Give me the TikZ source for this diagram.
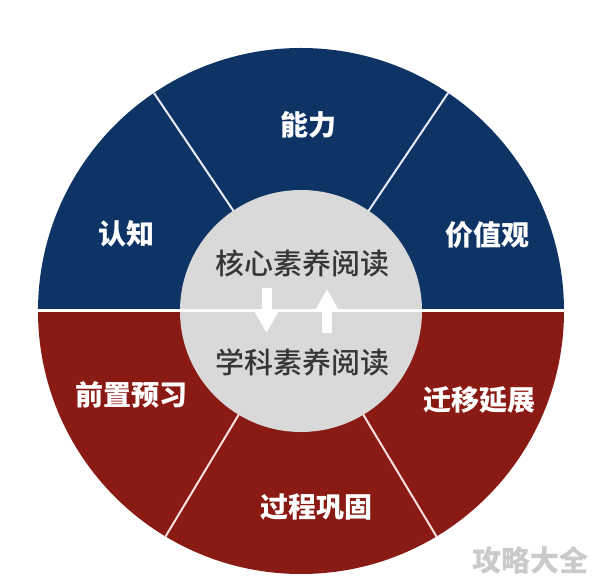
\documentclass[tikz,border=0pt]{standalone}
\usepackage{fontspec}
\newfontfamily\cjk{Noto Sans CJK SC}
\newfontfamily\cjkmed{Noto Sans CJK SC}[UprightFont={* Medium}]
\usepackage{tikz}
\usetikzlibrary{positioning, arrows.meta}
\definecolor{wheelblue}{HTML}{0E3466}
\definecolor{wheelred}{HTML}{8A1B14}
\definecolor{hubgrey}{HTML}{D9D9D9}
\definecolor{hubtext}{HTML}{363636}
\definecolor{marktext}{HTML}{CACACA}
\tikzset{
  wheel/.style={
	x=1pt, y=1pt, % one unit is one pixel of the reference
	outer/.style={inner sep=0pt, text=white, font=\cjk\bfseries\fontsize{28}{28}\selectfont}, % labels on the coloured ring
	hub/.style={inner sep=0pt, text=hubtext, font=\cjkmed\fontsize{29}{29}\selectfont}, % labels on the grey hub
	upline/.style={draw=blue!8, line width=2pt}, % dividers in the blue half
	lowline/.style={draw=red!12, line width=2pt}, % dividers in the red half
	flow/.style={draw=white, line width=10pt, -{Triangle[width=23pt, length=22pt]}}, % white block arrows
  }
}
\begin{document}
\begin{tikzpicture}[wheel]
	  \useasboundingbox (0,0) rectangle (594,584);
	  \coordinate (o) at (301,273);

	  % ring: blue upper half, red lower half
	  \fill[wheelblue] (o) ++(263,0) arc[start angle=0, end angle=180, radius=263] -- cycle;
	  \fill[wheelred] (o) ++(-263,0) arc[start angle=180, end angle=360, radius=263] -- cycle;
	  \foreach \a in {56,124}
		  \draw[upline] ([shift={(\a:115)}]o) -- ([shift={(\a:263)}]o);
	  \foreach \a in {-59,-121}
		  \draw[lowline] ([shift={(\a:115)}]o) -- ([shift={(\a:263)}]o);

	  % hub
	  \fill[hubgrey] (o) circle[radius=121];
	  \draw[white, line width=3pt] ([xshift=-263pt]o) -- ([xshift=263pt]o);

	  \node[outer] (ability) at ([shift={(7,186)}]o) {能力};
	  \node[outer] (cognition) at ([shift={(-175,77)}]o) {认知};
	  \node[outer] (values) at ([shift={(186,76)}]o) {价值观};
	  \node[outer] (preview) at ([shift={(-170,-84)}]o) {前置预习};
	  \node[outer] (transfer) at ([shift={(178,-89)}]o) {迁移延展};
	  \node[outer] (consolidate) at ([shift={(15,-196)}]o) {过程巩固};

	  \node[hub] (core) at ([shift={(1,48)}]o) {核心素养阅读};
	  \node[hub] (subject) at ([shift={(1,-51)}]o) {学科素养阅读};

	  \coordinate (downtail) at ([shift={(-34.5,23)}]o);
	  \coordinate (downtip) at ([shift={(-34.5,-22)}]o);
	  \coordinate (uptail) at ([shift={(26,-22)}]o);
	  \coordinate (uptip) at ([shift={(26,22)}]o);
	  \draw[flow] (downtail) -- (downtip);
	  \draw[flow] (uptail) -- (uptip);

	  \node[inner sep=0pt, text=marktext, font=\cjk\bfseries\fontsize{29}{29}\selectfont] (mark) at (530,24) {攻略大全};
\end{tikzpicture}
\end{document}
